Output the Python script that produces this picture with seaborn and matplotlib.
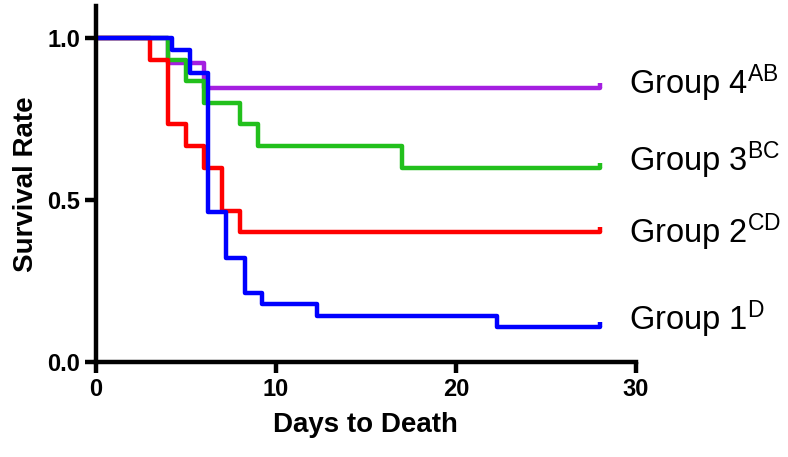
import numpy as np
import pandas as pd
import seaborn as sns
from matplotlib import pyplot as plt

# survival curves (Kaplan-Meier steps)
purple_days = [0, 4, 6, 28]
purple_surv = [1.0, 0.923, 0.846, 0.846]

green_days = [0, 4, 5, 6, 8, 9, 17, 28]
green_surv = [1.0, 0.933, 0.867, 0.8, 0.733, 0.667, 0.6, 0.6]

red_days = [0, 3, 4, 5, 6, 7, 8, 28]
red_surv = [1.0, 0.933, 0.733, 0.667, 0.6, 0.467, 0.4, 0.4]

blue_days = [0, 4.2, 5.2, 6.2, 7.2, 8.3, 9.2, 12.3, 22.3, 28]
blue_surv = [1.0, 0.964, 0.893, 0.464, 0.321, 0.214, 0.179, 0.143, 0.107, 0.107]

groups = ["Group 4", "Group 3", "Group 2", "Group 1"]
superscripts = ["AB", "BC", "CD", "D"]
colors = ["#A41FE0", "#22C01C", "#FF0000", "#0000FF"]
label_y = [0.826, 0.59, 0.368, 0.099]

sns.set_style("ticks")
plt.rcParams['font.family'] = ['Liberation Sans', 'DejaVu Sans']
plt.rcParams['mathtext.default'] = 'regular'
plt.rcParams['text.color'] = 'black'
plt.rcParams['axes.labelcolor'] = 'black'
plt.rcParams['xtick.color'] = 'black'
plt.rcParams['ytick.color'] = 'black'

frames = []
for g, d, s in zip(groups,
                   [purple_days, green_days, red_days, blue_days],
                   [purple_surv, green_surv, red_surv, blue_surv]):
    frames.append(pd.DataFrame({"day": d, "surv": s, "group": g}))
df = pd.concat(frames, ignore_index=True)

fig = plt.figure(figsize=(7.88, 4.57), dpi=100)
ax = fig.add_axes([0.1218, 0.2079, 0.685, 0.78])

sns.lineplot(data=df, x="day", y="surv", hue="group", hue_order=groups,
             palette=dict(zip(groups, colors)), estimator=None, sort=False,
             drawstyle="steps-post", linewidth=3.2, legend=False, ax=ax)

# censor ticks at the end of each curve
for g, c in zip(groups, colors):
    last = df[df.group == g].iloc[-1]
    ax.plot([last.day], [last.surv], marker=[(0, 0), (0, 1)], markersize=7,
            markeredgewidth=3.2, color=c, clip_on=False)

for g, sup, c, y in zip(groups, superscripts, colors, label_y):
    ax.text(29.6, y, g + "$^{\\mathregular{" + sup + "}}$", fontsize=23.5,
            va="baseline", ha="left", color="black", clip_on=False)

ax.set_xlim(0, 30)
ax.set_ylim(0, 1.1)
ax.set_xticks([0, 10, 20, 30])
ax.set_yticks([0.0, 0.5, 1.0])
ax.set_yticklabels(["0.0", "0.5", "1.0"])
ax.tick_params(width=3.2, length=8, labelsize=17, color="black", labelcolor="black")
for lab in ax.get_xticklabels() + ax.get_yticklabels():
    lab.set_fontweight("bold")
for sp in ["left", "bottom"]:
    ax.spines[sp].set_linewidth(3.2)
    ax.spines[sp].set_color("black")
sns.despine(ax=ax)

ax.set_xlabel("Days to Death", fontsize=20, fontweight="bold", labelpad=8)
ax.set_ylabel("Survival Rate", fontsize=20, fontweight="bold", labelpad=6)

fig.savefig("out.png", dpi=100)
